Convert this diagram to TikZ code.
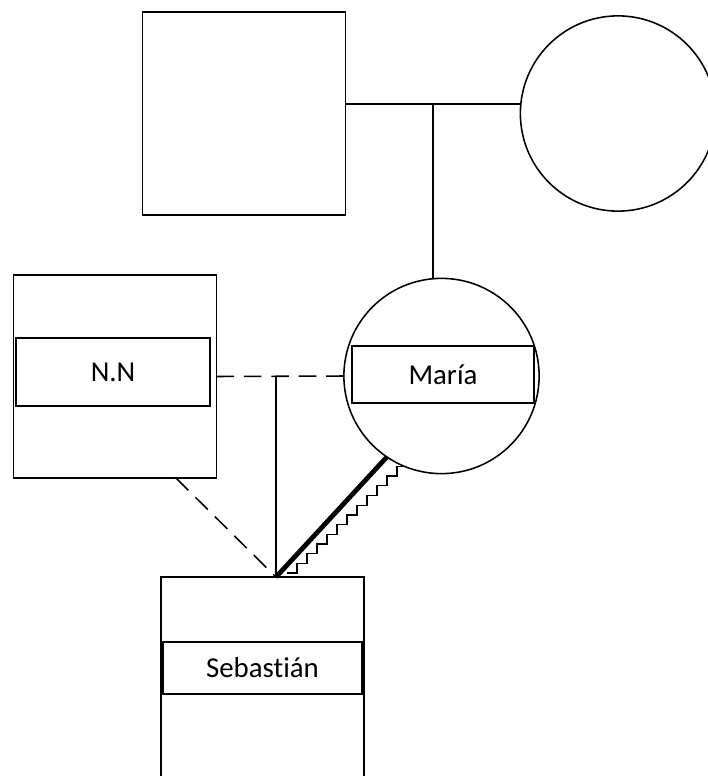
\documentclass[tikz,border=0pt]{standalone}
\usepackage{fontspec}
\setmainfont{Carlito}[Ligatures=NoCommon]
\usetikzlibrary{calc}

\tikzset{
  male/.style={draw, rectangle, line width=1.1pt, minimum width=5.07cm, minimum height=5.07cm, inner sep=0pt, outer sep=0pt},
  female/.style={draw, circle, line width=1.1pt, minimum size=4.88cm, inner sep=0pt, outer sep=0pt},
  namebox/.style={draw, rectangle, line width=0.9pt, inner sep=0pt, outer sep=0pt, font=\fontsize{20.5}{24}\selectfont},
  rel/.style={line width=1.1pt},
  unmarried/.style={rel, dash pattern=on 12.5pt off 7pt},
  hostile/.style={line width=3.4pt},
}

\begin{document}
\begin{tikzpicture}[x=0.025cm, y=-0.025cm]
    \useasboundingbox (0,0) rectangle (708,776);
    \clip (0,0) rectangle (708,776);

    % Parents
    \node[male] (father) at (244,113.5) {};
    \node[female] (mother) at (618,113.5) {};
    \coordinate (mar) at (433,104);
    \draw[rel] (father.east |- mar) -- (mar -| mother.west);

    % Maria
    \node[female] (maria) at (441.5,376) {};
    \node[namebox, minimum width=4.55cm, minimum height=1.43cm] (marialabel) at (443,374.5) {María};
    \draw[rel] (mar) -- (mar |- maria.north);

    % Partner
    \node[male] (nn) at (115,376.5) {};
    \node[namebox, minimum width=4.85cm, minimum height=1.7cm] (nnlabel) at (113,372) {N.N};
    \draw[unmarried] (nn.east) -- (maria.west);

    % Son
    \node[male] (seb) at (262.5,678.5) {};
    \node[namebox, minimum width=4.98cm, minimum height=1.3cm] (seblabel) at (262.5,668) {Sebastián};
    \coordinate (un) at (276,377);
    \coordinate (sebtop) at (un |- seb.north);
    \draw[rel] (un) -- (sebtop);
    \draw[unmarried] ($(nn.south west)!0.8!(nn.south east)$) -- (sebtop);

    % Relation son -- mother
    \draw[hostile] (sebtop) -- (maria.236);
    \draw[line width=0.9pt] ($(sebtop)+(11,-4)$)
        foreach \i in {1,...,11} { -- ++(10,0) -- ++(0,-9.7) } -- ++(6,0);
\end{tikzpicture}
\end{document}
